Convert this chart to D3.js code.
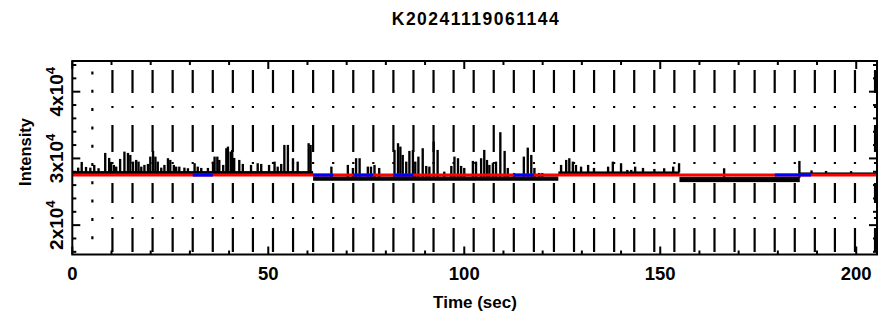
<!DOCTYPE html>
<html><head><meta charset="utf-8">
<script src="https://cdn.jsdelivr.net/npm/d3@7"></script>
<style>body{margin:0;background:#fff}</style>
</head><body><svg id="c" width="883" height="323"></svg>
<script>
const title = "K20241119061144";
const xLabel = "Time (sec)";
const yLabel = "Intensity";
const xDomain = [0, 205.3];
const yDomain = [15600, 44600];
const xTickLabels = [0, 50, 100, 150, 200];
const yTickValues = [20000, 30000, 40000];
const yTickMantissa = ["2", "3", "4"];
const yTickExponent = "4";

// baseline noise bands: [tStart, tEnd, low, high]
const baseSegments = [
  [0, 61.44, 27650, 28100],
  [61.44, 124.0, 26650, 27300],
  [124.0, 154.9, 27650, 28050],
  [154.9, 185.6, 26450, 27250],
  [185.6, 205.3, 27600, 27900]
];

// spikes: [time, peak intensity]
const spikeTimes = [1.2,2.1,3.2,4.3,5.3,6.4,8.1,9.1,9.6,10.3,10.9,11.9,13.0,13.9,14.5,15.2,16.0,16.6,17.3,18.1,19.0,19.6,20.3,20.9,21.5,22.4,23.2,24.1,24.7,25.6,26.2,27.0,28.3,29.2,30.9,31.7,32.6,34.3,35.6,36.0,36.7,37.2,38.2,39.0,39.4,40.1,40.5,41.0,42.3,43.2,45.3,47.0,47.9,49.9,51.3,52.1,53.0,53.8,54.7,56.0,57.2,60.0,60.5,
  65.8,70.0,71.3,72.1,73.0,75.1,75.9,76.8,78.0,81.9,82.8,83.4,84.0,84.9,85.7,86.6,87.2,88.0,89.1,90.0,90.8,91.9,92.9,94.6,96.4,97.2,98.1,98.9,99.7,101.9,102.7,104.0,104.8,105.5,106.1,107.0,107.8,108.9,110.0,110.8,112.4,114.9,115.9,116.8,117.6,118.8,119.6,
  124.4,125.7,126.5,127.4,128.2,129.5,131.3,132.8,136.4,137.6,139.7,141.3,142.3,143.3,145.3,148.2,150.7,153.0,154.5,
  166.0,185.2,188.3,192.0,198.4];
const spikeValues = [28620,29475,28725,28620,29025,28530,30825,30075,29475,29025,28770,29925,31020,30825,30525,29520,29775,29520,28770,29025,29175,30270,31125,30270,29520,28620,29025,30030,29775,29025,28770,28770,28620,28530,29280,28770,28575,28575,29520,30270,30270,29775,29025,31530,31770,31020,31275,30075,29775,29175,29025,29280,29175,29025,29520,28770,29175,32025,32025,30030,29520,32280,32025,
  28770,29025,28575,30030,30030,28770,28770,29025,28575,31275,32280,31770,30525,29520,31125,31275,29520,30270,31530,28875,28770,32520,31275,28020,28875,30270,30030,28875,28575,29625,29520,30030,31275,29775,29025,29280,29520,33930,31125,28575,27825,30270,31620,30525,28575,27825,27825,
  29025,29775,30030,29520,29025,28770,29025,28575,28770,29520,29280,28275,28275,28770,28575,28425,28530,28770,29280,
  28530,29625,28200,28125,28100];
const spikeWidth = 0.6;

const bgLevel = 27500;
const bgSpan = [0, 205.3];
const blueSegments = [[30.72, 35.84], [61.44, 66.56], [71.68, 76.8], [81.92, 87.04], [112.64, 117.76], [179.2, 188.5]];

const markerTimes = [10.24,15.36,20.48,25.6,30.72,35.84,40.96,46.08,51.2,56.32,61.44,66.56,71.68,76.8,81.92,87.04,92.16,97.28,102.4,107.52,112.64,117.76,122.88,128,133.12,138.24,143.36,148.48,153.6,158.72,163.84,168.96,174.08,179.2,184.32,189.44,194.56,199.68,204.8];
const dottedMarkerTimes = [5.12];

const L = 72.3, R = 877, T = 61, B = 254.5;
const svg = d3.select("#c");
const x = d3.scaleLinear().domain(xDomain).range([L, R]);
const y = d3.scaleLinear().domain(yDomain).range([B, T]);
const font = "'Liberation Sans', Arial, sans-serif";

// markers
const gm = svg.append("g");
gm.selectAll("line.dd").data(markerTimes).join("line")
  .attr("x1", d => x(d)).attr("x2", d => x(d)).attr("y1", T).attr("y2", B)
  .attr("stroke", "#000").attr("stroke-width", 2.2)
  .attr("stroke-dasharray", "0 9 23 13 2 17 27 10 2 19 20 14 2 9 24 20");
gm.selectAll("line.dt").data(dottedMarkerTimes).join("line")
  .attr("x1", d => x(d)).attr("x2", d => x(d)).attr("y1", T).attr("y2", B)
  .attr("stroke", "#000").attr("stroke-width", 2.2)
  .attr("stroke-dasharray", "3 15.3").attr("stroke-dashoffset", 7.8);

// data
const gd = svg.append("g");
gd.selectAll("rect.b").data(baseSegments).join("rect")
  .attr("x", d => x(d[0])).attr("width", d => x(d[1]) - x(d[0]))
  .attr("y", d => y(d[3])).attr("height", d => y(d[2]) - y(d[3]))
  .attr("fill", "#000");
const spikes = spikeTimes.map((t, i) => [t, spikeValues[i]]);
function baseAt(t) { const s = baseSegments.find(s => t >= s[0] && t < s[1]) || baseSegments[baseSegments.length - 1]; return s[3]; }
gd.selectAll("rect.s").data(spikes).join("rect")
  .attr("x", d => x(d[0])).attr("width", d => x(d[0] + spikeWidth) - x(d[0]))
  .attr("y", d => y(d[1])).attr("height", d => y(baseAt(d[0])) - y(d[1]) + 1)
  .attr("fill", "#000");

// background fit
svg.append("line").attr("x1", x(bgSpan[0])).attr("x2", x(bgSpan[1]))
  .attr("y1", y(bgLevel)).attr("y2", y(bgLevel)).attr("stroke", "#ff0000").attr("stroke-width", 3);
svg.selectAll("line.bl").data(blueSegments).join("line")
  .attr("x1", d => x(d[0])).attr("x2", d => x(d[1]))
  .attr("y1", y(bgLevel)).attr("y2", y(bgLevel)).attr("stroke", "#0000ff").attr("stroke-width", 3);

// frame and ticks
svg.append("rect").attr("x", L).attr("y", T).attr("width", R - L).attr("height", B - T)
  .attr("fill", "none").attr("stroke", "#000").attr("stroke-width", 2);
const xt = d3.range(0, 206, 10);
const yt = d3.range(16000, 44601, 2000);
const gt = svg.append("g").attr("stroke", "#000").attr("stroke-width", 2);
xt.forEach(v => {
  const len = v % 50 === 0 ? 8 : 4;
  gt.append("line").attr("x1", x(v)).attr("x2", x(v)).attr("y1", B).attr("y2", B - len);
  gt.append("line").attr("x1", x(v)).attr("x2", x(v)).attr("y1", T).attr("y2", T + len);
});
yt.forEach(v => {
  const len = v % 10000 === 0 ? 8 : 4;
  gt.append("line").attr("x1", L).attr("x2", L + len).attr("y1", y(v)).attr("y2", y(v));
  gt.append("line").attr("x1", R).attr("x2", R - len).attr("y1", y(v)).attr("y2", y(v));
});

// labels
svg.selectAll("text.xt").data(xTickLabels).join("text")
  .attr("x", d => x(d)).attr("y", 280).attr("text-anchor", "middle")
  .attr("font-family", font).attr("font-weight", "bold").attr("font-size", 18.5)
  .text(d => d);
yTickValues.forEach((v, i) => {
  const t = svg.append("text")
    .attr("transform", `translate(63,${y(v)}) rotate(-90)`)
    .attr("text-anchor", "middle")
    .attr("font-family", font).attr("font-weight", "bold").attr("font-size", 19);
  t.append("tspan").text(yTickMantissa[i] + "x10");
  t.append("tspan").attr("dy", -8).attr("font-size", 13).text(yTickExponent);
});
svg.append("text").attr("transform", `translate(31,152) rotate(-90)`).attr("text-anchor", "middle")
  .attr("font-family", font).attr("font-weight", "bold").attr("font-size", 16.5).text(yLabel);
svg.append("text").attr("x", 475).attr("y", 308).attr("text-anchor", "middle")
  .attr("font-family", font).attr("font-weight", "bold").attr("font-size", 17).text(xLabel);
svg.append("text").attr("x", 476).attr("y", 25).attr("text-anchor", "middle")
  .attr("font-family", font).attr("font-weight", "bold").attr("font-size", 17.5).attr("letter-spacing", 1.5).text(title);
</script></body></html>
